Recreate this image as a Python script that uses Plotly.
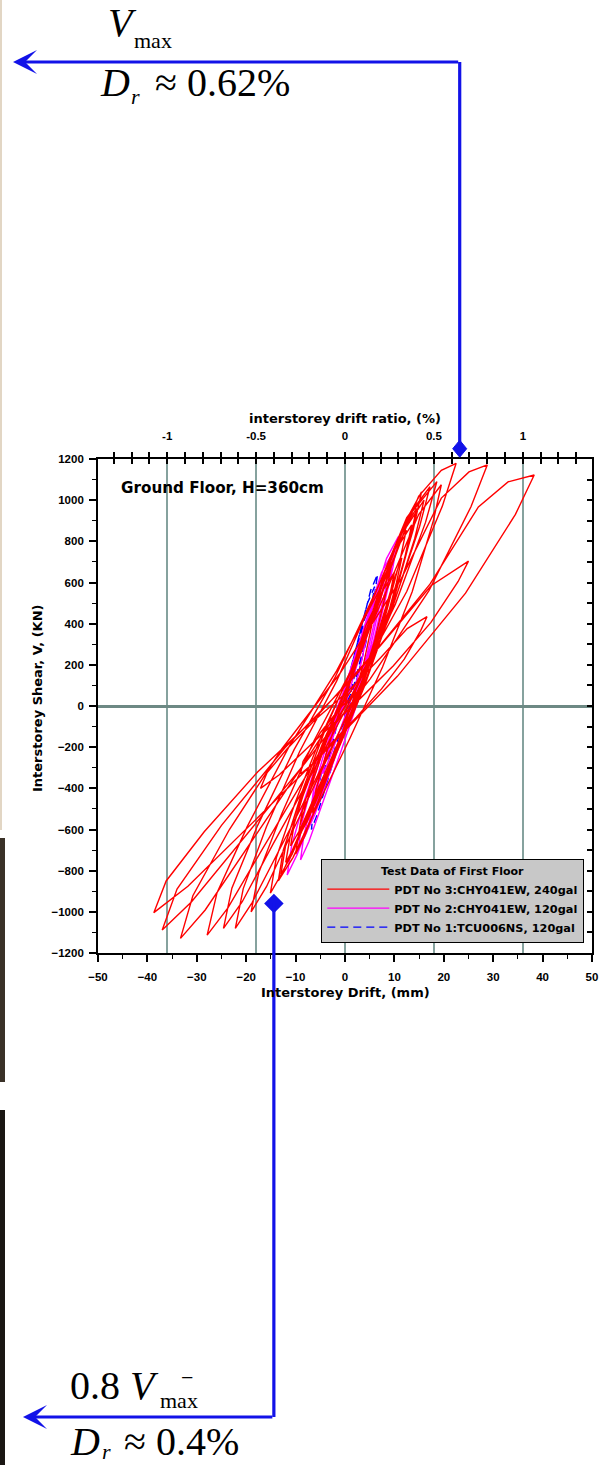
import plotly.graph_objects as go

# ---------------- data ----------------
STOREY_H_MM = 3600.0          # H = 360 cm

# PDT No 3: CHY041EW, 240gal  (interstorey drift, mm / interstorey shear, kN)
red_drift = [
    0.0, 1.0, 2.5, 4.2, 6.0,
    5.4, 3.8, 1.5, -1.0, -3.5, -5.4, -6.5,
    -5.9, -3.9, -1.2, 1.8, 5.0, 7.6, 9.5,
    8.5, 6.0, 2.5, -1.4, -5.3, -8.2, -10.0,
    -9.1, -6.4, -2.6, 1.6, 6.1, 9.7, 12.4,
    11.1, 7.8, 3.3, -1.8, -6.9, -10.7, -13.0,
    -11.9, -8.6, -3.9, 1.3, 6.8, 11.2, 14.5,
    13.0, 9.2, 3.8, -2.1, -8.0, -12.4, -15.1,
    -13.9, -10.1, -4.8, 1.1, 7.3, 12.3, 16.0,
    14.1, 9.1, 2.3, -5.4, -13.0, -18.8, -22.2,
    -20.6, -15.9, -9.2, -1.7, 6.2, 12.5, 17.2,
    15.1, 9.7, 2.2, -6.2, -14.6, -20.8, -24.6,
    -22.9, -17.7, -10.3, -2.1, 6.5, 13.4, 18.6,
    16.3, 10.2, 1.9, -7.4, -16.7, -23.7, -27.9,
    -25.9, -19.8, -11.3, -1.7, 8.4, 14.9, 19.5, 22.5,
    19.7, 12.5, 2.4, -8.8, -19.9, -28.3, -33.3,
    -30.8, -23.4, -12.8, -1.0, 11.4, 19.5, 25.1, 28.8,
    25.5, 17.0, 5.1, -8.0, -21.2, -31.1, -37.0,
    -34.0, -25.0, -12.2, 2.2, 17.2, 27.0, 33.0, 38.3,
    34.5, 24.4, 10.6, -4.8, -20.2, -31.8, -38.7,
    -36.2, -28.5, -17.7, -5.6, 7.2, 17.4, 25.0,
    22.9, 17.4, 9.8, 1.4, -7.0, -13.3, -17.1,
    -15.8, -11.7, -6.0, 0.4, 7.2, 12.6, 16.6,
    15.3, 12.0, 7.4, 2.3, -2.9, -6.7, -9.0,
    -8.5, -5.0, -1.0, 3.0,
    5.5, 8.0, 10.0, 11.5,
    10.4, 7.7, 3.9, -0.3, -4.5, -7.6, -9.5,
    -8.6, -5.8, -1.9, 2.5, 7.1, 10.7, 13.5,
    12.2, 8.9, 4.3, -0.8, -5.9, -9.7, -12.0,
    -11.1, -8.5, -4.7, -0.6, 3.8, 7.4, 10.0,
    9.0, 6.2, 2.4, -1.8, -6.0, -9.1, -11.0,
    -10.2, -7.5, -3.8, 0.0,
    3.0, 6.5, 10.0, 13.0, 15.5,
    13.8, 9.3, 3.1, -3.8, -10.7, -15.9, -19.0,
    -17.5, -12.8, -6.3, 1.0, 8.7, 14.9, 19.5,
    17.9, 13.6, 7.6, 1.0, -5.6, -10.5, -13.5,
    -12.5, -9.0, -4.5, 0.0,
]
red_shear = [
    0, 120, 260, 390, 480,
    390, 210, 20, -160, -330, -460, -520,
    -410, -239, -32, 163, 407, 615, 700,
    572, 317, 47, -209, -450, -635, -720,
    -578, -358, -90, 162, 477, 745, 855,
    704, 403, 84, -217, -502, -720, -820,
    -660, -411, -108, 177, 533, 835, 960,
    792, 455, 100, -236, -554, -797, -909,
    -737, -470, -145, 160, 542, 866, 1000,
    813, 438, 43, -331, -685, -955, -1080,
    -887, -587, -222, 121, 550, 915, 1065,
    872, 486, 78, -308, -672, -951, -1080,
    -885, -581, -212, 135, 569, 938, 1090,
    892, 495, 77, -320, -694, -981, -1113,
    -907, -586, -196, 171, 629, 1019, 1145, 1179,
    971, 556, 117, -298, -690, -991, -1129,
    -922, -600, -209, 159, 619, 1010, 1137, 1171,
    968, 561, 132, -275, -659, -952, -1088,
    -889, -580, -204, 150, 592, 967, 1089, 1122,
    931, 548, 144, -239, -600, -876, -1004,
    -850, -611, -321, -48, 294, 584, 704,
    605, 406, 196, -3, -190, -334, -400,
    -325, -208, -66, 67, 234, 376, 434,
    365, 228, 83, -55, -185, -284, -330,
    -270, -130, -10, 80,
    260, 460, 620, 720,
    598, 353, 94, -150, -382, -558, -640,
    -503, -290, -32, 211, 515, 774, 880,
    732, 437, 126, -170, -448, -662, -760,
    -633, -436, -196, 30, 312, 551, 650,
    530, 291, 38, -201, -427, -600, -680,
    -560, -360, -140, 40,
    250, 520, 760, 930, 1040,
    856, 489, 102, -266, -612, -878, -1000,
    -813, -523, -170, 162, 577, 930, 1075,
    902, 555, 189, -157, -484, -735, -850,
    -700, -450, -180, 0,
]

# PDT No 2: CHY041EW, 120gal
mag_drift = [
    0.0, 1.2, 2.8, 4.5,
    4.0, 2.9, 1.3, -0.5, -2.3, -3.7, -4.5,
    -4.0, -2.7, -0.7, 1.5, 3.8, 5.6, 7.0,
    6.3, 4.5, 2.0, -0.8, -3.6, -5.7, -7.0,
    -6.4, -4.4, -1.7, 1.3, 4.5, 7.1, 9.0,
    8.1, 5.7, 2.3, -1.4, -5.1, -7.8, -9.5,
    -8.7, -6.3, -2.8, 1.1, 5.1, 8.4, 10.8,
    9.7, 6.8, 2.7, -1.8, -6.3, -9.7, -11.7,
    -10.8, -8.2, -4.5, -0.4, 3.9, 7.4, 10.0,
    9.0, 6.6, 3.2, -0.6, -4.4, -7.3, -9.0,
    -8.3, -6.3, -3.4, -0.2, 3.2, 6.0, 8.0,
    7.2, 5.2, 2.4, -0.7, -3.8, -6.1, -7.5,
    -6.8, -4.5, -2.0, 0.0,
]
mag_shear = [
    0, 100, 230, 350,
    289, 166, 37, -85, -201, -289, -330,
    -252, -130, 18, 157, 331, 479, 540,
    445, 254, 52, -138, -319, -456, -520,
    -412, -244, -40, 152, 392, 596, 680,
    556, 307, 45, -203, -438, -617, -700,
    -563, -350, -91, 153, 457, 716, 823,
    675, 379, 67, -229, -509, -722, -821,
    -679, -457, -189, 64, 381, 649, 760,
    624, 353, 66, -205, -461, -658, -748,
    -625, -433, -201, 18, 292, 524, 620,
    510, 291, 59, -161, -368, -527, -600,
    -500, -300, -120, 20,
]

# PDT No 1: TCU006NS, 120gal
blue_drift = [
    0.0, 1.0, 2.0, 3.0,
    2.7, 1.8, 0.7, -0.6, -1.9, -2.9, -3.5,
    -3.2, -2.1, -0.7, 0.9, 2.6, 4.0, 5.0,
    4.5, 3.2, 1.3, -0.7, -2.8, -4.3, -5.2,
    -4.7, -3.3, -1.3, 0.9, 3.3, 5.2, 6.6,
    5.9, 4.2, 1.8, -0.9, -3.6, -5.6, -6.8,
    -6.3, -4.8, -2.6, -0.1, 2.4, 4.5, 6.0,
    5.3, 3.6, 1.6, 0.0,
]
blue_shear = [
    0, 110, 210, 300,
    244, 133, 15, -97, -202, -283, -320,
    -248, -136, 0, 128, 288, 424, 480,
    394, 223, 43, -128, -290, -413, -470,
    -370, -215, -26, 152, 374, 562, 640,
    528, 305, 70, -154, -364, -526, -600,
    -494, -329, -128, 61, 297, 497, 580,
    480, 270, 80, 0,
]

series_names = [
    "PDT No 3:CHY041EW, 240gal",
    "PDT No 2:CHY041EW, 120gal",
    "PDT No 1:TCU006NS, 120gal",
]

# axis ticks
x_tickvals = [-50, -40, -30, -20, -10, 0, 10, 20, 30, 40, 50]
y_tickvals = [-1200, -1000, -800, -600, -400, -200, 0, 200, 400, 600, 800, 1000, 1200]
ratio_tickvals = [-1, -0.5, 0, 0.5, 1]
ratio_ticktext = ["-1", "-0.5", "0", "0.5", "1"]

# highlighted points: V_max (drift ratio ~0.62%) and 0.8 V-max (drift ratio ~0.4%)
marker_ratio_pct = [0.645, -0.40]
marker_shear = [1250, -960]

X_RANGE = [-50, 50]
Y_RANGE = [-1200, 1200]
RATIO_RANGE = [X_RANGE[0] / STOREY_H_MM * 100, X_RANGE[1] / STOREY_H_MM * 100]

# ---------------- geometry helpers (layout only) ----------------
W, H = 610, 1465
ML, MR, MT, MB = 98, 18, 459, 512
PW, PH = W - ML - MR, H - MT - MB


def pxx(px):
    return (px - ML) / PW


def pxy(py):
    return (H - MB - py) / PH


def r2paper(v):
    return (v - RATIO_RANGE[0]) / (RATIO_RANGE[1] - RATIO_RANGE[0])


def dy2paper(v):
    return (v - Y_RANGE[0]) / (Y_RANGE[1] - Y_RANGE[0])


BLUE = "#1212e8"
GRID = "#86a29e"
TICKFONT = dict(family="Liberation Sans", size=11.5, color="black", weight="bold")
TITLEFONT = dict(family="DejaVu Sans", size=13, color="black", weight="bold")
SERIF = "Liberation Serif"

fig = go.Figure()
fig.add_trace(go.Scatter(
    x=blue_drift, y=blue_shear, mode="lines", name=series_names[2], legendrank=3,
    line=dict(color="#0000ff", width=1.4, dash="8px,5px")))
fig.add_trace(go.Scatter(
    x=mag_drift, y=mag_shear, mode="lines", name=series_names[1], legendrank=2,
    line=dict(color="#ff00ff", width=1.4)))
fig.add_trace(go.Scatter(
    x=red_drift, y=red_shear, mode="lines", name=series_names[0], legendrank=1,
    line=dict(color="#ff0000", width=1.4)))
# the 0.8 V-max point (inside the frame) on the drift-ratio axis
fig.add_trace(go.Scatter(
    x=marker_ratio_pct[1:], y=marker_shear[1:], xaxis="x2", yaxis="y", mode="markers",
    showlegend=False, cliponaxis=False, hoverinfo="skip",
    marker=dict(symbol="diamond", size=15, color=BLUE)))
# empty traces so that the tick-only axes get drawn
fig.add_trace(go.Scatter(x=[], y=[], xaxis="x3", yaxis="y", showlegend=False, hoverinfo="skip"))
fig.add_trace(go.Scatter(x=[], y=[], xaxis="x", yaxis="y2", showlegend=False, hoverinfo="skip"))

fig.update_layout(
    width=W, height=H,
    margin=dict(l=ML, r=MR, t=MT, b=MB, autoexpand=False),
    paper_bgcolor="white", plot_bgcolor="white",
    showlegend=True,
    xaxis=dict(
        range=X_RANGE, tickvals=x_tickvals, ticks="outside", ticklen=7, tickwidth=1.5,
        tickcolor="black", showline=True, linecolor="black", linewidth=1.8,
        showgrid=False, zeroline=False, tickfont=TICKFONT, ticklabelstandoff=5,
        minor=dict(dtick=5, tick0=0, ticks="outside", ticklen=4, tickwidth=1.3, tickcolor="black"),
    ),
    xaxis2=dict(
        overlaying="x", side="top", anchor="y", range=RATIO_RANGE,
        tickvals=ratio_tickvals, ticktext=ratio_ticktext, ticks="outside", ticklen=5,
        tickwidth=1.5, tickcolor="black", showline=True, linecolor="black", linewidth=1.8,
        showgrid=True, gridcolor=GRID, gridwidth=1.6, zeroline=False, tickfont=TICKFONT,
        ticklabelstandoff=8,
        minor=dict(dtick=0.1, tick0=0, ticks="outside", ticklen=5, tickwidth=1.5,
                   tickcolor="black", showgrid=False),
    ),
    xaxis3=dict(
        overlaying="x", side="top", anchor="y", range=RATIO_RANGE, dtick=0.1, tick0=0,
        ticks="inside", ticklen=5, tickwidth=1.5, tickcolor="black",
        showticklabels=False, showgrid=False, zeroline=False, showline=False,
    ),
    yaxis=dict(
        range=Y_RANGE, tickvals=y_tickvals, ticks="outside", ticklen=7, tickwidth=1.5,
        tickcolor="black", showline=True, linecolor="black", linewidth=1.8,
        showgrid=False, zeroline=True, zerolinecolor="#6d8984", zerolinewidth=2.6,
        tickfont=TICKFONT, ticklabelstandoff=3,
        minor=dict(dtick=100, tick0=0, ticks="outside", ticklen=4, tickwidth=1.3, tickcolor="black"),
    ),
    yaxis2=dict(
        overlaying="y", side="right", anchor="x", range=Y_RANGE, dtick=100, tick0=0,
        ticks="inside", ticklen=5, tickwidth=1.5, tickcolor="black",
        showticklabels=False, showgrid=False, zeroline=False,
        showline=True, linecolor="black", linewidth=1.8,
    ),
    legend=dict(
        x=pxx(584), xanchor="right", y=pxy(943), yanchor="bottom",
        bgcolor="#c8c8c8", bordercolor="black", borderwidth=1.3,
        font=dict(family="DejaVu Sans", size=11.3, color="black", weight="bold"),
        title=dict(text="Test Data of First Floor", side="top center",
                   font=dict(family="DejaVu Sans", size=11, color="black", weight="bold")),
        itemwidth=62, tracegroupgap=0,
    ),
)

annotations = []
# axis titles
annotations.append(dict(text="interstorey drift ratio, (%)", x=0.5, y=pxy(418), xref="paper", yref="paper",
                        showarrow=False, xanchor="center", yanchor="middle", font=TITLEFONT))
annotations.append(dict(text="Interstorey Drift, (mm)", x=0.5, y=pxy(992), xref="paper", yref="paper",
                        showarrow=False, xanchor="center", yanchor="middle", font=TITLEFONT))
annotations.append(dict(text="Interstorey Shear, V, (KN)", x=pxx(37), y=pxy(698), xref="paper", yref="paper",
                        showarrow=False, xanchor="center", yanchor="middle", textangle=-90, font=TITLEFONT))
annotations.append(dict(text="Ground Floor, H=360cm", x=pxx(119), y=pxy(488), xref="paper", yref="paper",
                        showarrow=False, xanchor="left", yanchor="middle",
                        font=dict(family="DejaVu Sans", size=15.2, color="black", weight="bold")))

top_x = r2paper(marker_ratio_pct[0])
bot_x = r2paper(marker_ratio_pct[1])
# arrows (horizontal legs)
annotations.append(dict(text="", x=pxx(13), y=pxy(62), xref="paper", yref="paper", showarrow=True,
                        ax=(top_x - pxx(13)) * PW, ay=0, arrowhead=3, arrowsize=1.25,
                        arrowwidth=3.2, arrowcolor=BLUE, standoff=0, startstandoff=0))
annotations.append(dict(text="", x=pxx(23), y=pxy(1417), xref="paper", yref="paper", showarrow=True,
                        ax=(bot_x - pxx(23)) * PW, ay=0, arrowhead=3,
                        arrowsize=1.25, arrowwidth=3.2, arrowcolor=BLUE, standoff=0, startstandoff=0))


def serif(text, px, py, size, **kw):
    annotations.append(dict(text=text, x=pxx(px), y=pxy(py), xref="paper", yref="paper",
                            showarrow=False, xanchor="left", yanchor="middle",
                            font=dict(family=SERIF, size=size, color="black"), **kw))


# top labels
serif("<i>V</i>", 106, 22, 40)
serif("max", 132, 40, 22)
serif("<i>D</i>", 98, 82, 40)
serif("<i>r</i>", 129, 96, 22)
serif("≈ 0.62%", 153, 82, 40)
# bottom labels
serif("0.8 <i>V</i>", 68, 1385, 40)
serif("−", 179, 1377, 22)
serif("max", 158, 1400, 22)
serif("<i>D</i>", 68, 1441, 40)
serif("<i>r</i>", 100, 1451, 22)
serif("≈ 0.4%", 122, 1441, 40)

fig.update_layout(annotations=annotations)

# diamond for the V_max point, which sits just above the frame
ty = dy2paper(marker_shear[0])
hw, hh = 7.0 / PW, 8.5 / PH
diamond_path = (f"M {top_x - hw} {ty} L {top_x} {ty + hh} L {top_x + hw} {ty} "
                f"L {top_x} {ty - hh} Z")

shapes = [
    # vertical legs of the two callouts
    dict(type="line", xref="paper", yref="paper", x0=top_x, x1=top_x,
         y0=ty, y1=pxy(62), line=dict(color=BLUE, width=3.2)),
    dict(type="line", xref="paper", yref="paper", x0=bot_x, x1=bot_x,
         y0=dy2paper(marker_shear[1]), y1=pxy(1417), line=dict(color=BLUE, width=3.2)),
    dict(type="path", xref="paper", yref="paper", path=diamond_path,
         fillcolor=BLUE, line=dict(color=BLUE, width=1)),
    # dark edges along the left border of the photographed slide
    dict(type="rect", xref="paper", yref="paper", x0=pxx(0), x1=pxx(5), y0=pxy(838), y1=pxy(1082),
         fillcolor="#3a3128", line=dict(width=0), layer="above"),
    dict(type="rect", xref="paper", yref="paper", x0=pxx(0), x1=pxx(5), y0=pxy(1110), y1=pxy(1465),
         fillcolor="#1a1613", line=dict(width=0), layer="above"),
    dict(type="rect", xref="paper", yref="paper", x0=pxx(0), x1=pxx(2), y0=pxy(0), y1=pxy(830),
         fillcolor="#e2d6c4", line=dict(width=0), layer="above"),
]
fig.update_layout(shapes=shapes)

fig.write_html("out.html")
